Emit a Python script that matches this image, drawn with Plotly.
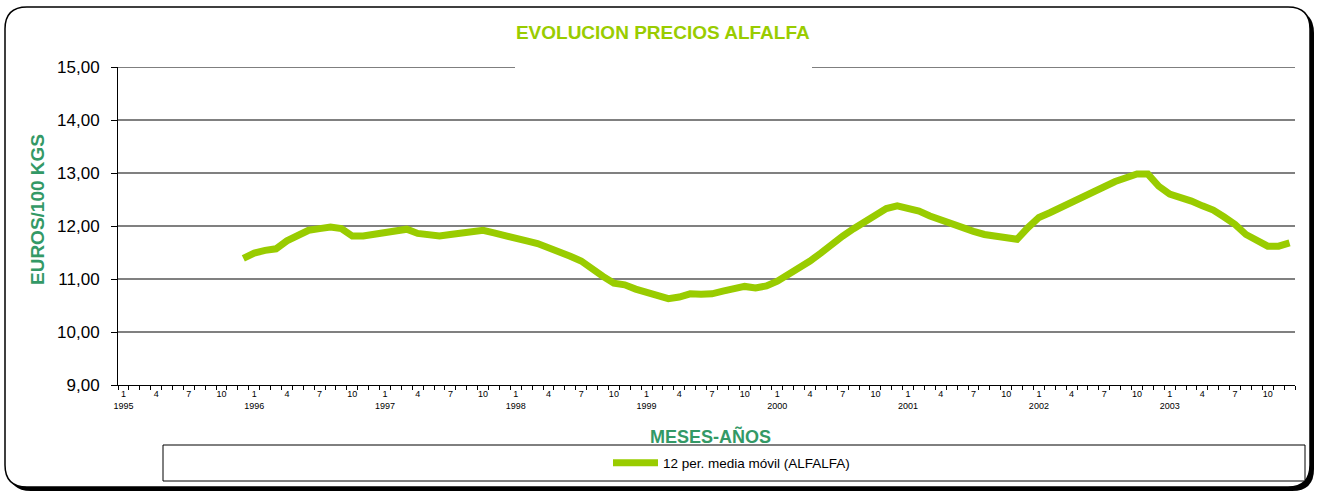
import plotly.graph_objects as go

# months 1995-01 .. 2003-12 on the axis
years = list(range(1995, 2004))
month_nums = list(range(1, 13))

# 12 per. moving average, from 1995-12 to 2003-12
start_index = 11
alfalfa = [
    11.39,
    11.49, 11.54, 11.57, 11.72, 11.82, 11.92, 11.95, 11.98, 11.95, 11.81, 11.81, 11.85,
    11.89, 11.90, 11.94, 11.86, 11.82, 11.81, 11.84, 11.87, 11.90, 11.92, 11.87, 11.81,
    11.76, 11.72, 11.67, 11.60, 11.53, 11.43, 11.34, 11.18, 11.05, 10.92, 10.89, 10.81,
    10.75, 10.68, 10.63, 10.66, 10.72, 10.71, 10.72, 10.77, 10.82, 10.86, 10.83, 10.87,
    10.96, 11.08, 11.22, 11.34, 11.49, 11.67, 11.81, 11.95, 12.08, 12.23, 12.33, 12.38,
    12.34, 12.28, 12.19, 12.11, 12.03, 11.95, 11.90, 11.84, 11.80, 11.77, 11.75, 11.97,
    12.16, 12.25, 12.35, 12.46, 12.57, 12.66, 12.74, 12.84, 12.91, 12.98, 12.98, 12.75,
    12.60, 12.55, 12.47, 12.38, 12.30, 12.17, 12.03, 11.84, 11.72, 11.62, 11.62, 11.68,
]
y_ticks = [9, 10, 11, 12, 13, 14, 15]

n_months = len(years) * 12
x_vals = list(range(start_index, start_index + len(alfalfa)))

tick_pos = []
tick_txt = []
for yi, yr in enumerate(years):
    for m in month_nums:
        if m in (1, 4, 7, 10):
            tick_pos.append(yi * 12 + m - 1)
            tick_txt.append(f"{m}<br>{yr}" if m == 1 else f"{m}<br> ")

W, H = 1323, 492
L, R, T, B = 118, 28, 67, 107
pw, ph = W - L - R, H - T - B


def px(x):
    return (x - L) / pw


def py(y):
    return (H - B - y) / ph


def rounded_path(x0, y0, x1, y1, r):
    pts = [
        ("M", x0 + r, y0), ("L", x1 - r, y0), ("Q", x1, y0, x1, y0 + r),
        ("L", x1, y1 - r), ("Q", x1, y1, x1 - r, y1), ("L", x0 + r, y1),
        ("Q", x0, y1, x0, y1 - r), ("L", x0, y0 + r), ("Q", x0, y0, x0 + r, y0),
    ]
    out = []
    for p in pts:
        if p[0] == "Q":
            out.append(f"Q{px(p[1])},{py(p[2])} {px(p[3])},{py(p[4])}")
        else:
            out.append(f"{p[0]}{px(p[1])},{py(p[2])}")
    return " ".join(out) + " Z"


fig = go.Figure()
fig.add_trace(go.Scatter(
    x=x_vals, y=alfalfa, mode="lines",
    name="12 per. media móvil (ALFALFA)",
    line=dict(color="#99cc00", width=7),
))

shapes = [
    # frame shadow + frame
    dict(type="path", xref="paper", yref="paper", layer="below",
         path=rounded_path(9, 11, 1314, 491, 22), fillcolor="black", line=dict(width=0)),
    dict(type="path", xref="paper", yref="paper", layer="below",
         path=rounded_path(5, 7, 1310, 487, 22), fillcolor="white",
         line=dict(color="black", width=1.5)),
    # top gridline (15,00)
    dict(type="line", xref="paper", yref="y", x0=0, x1=1, y0=max(y_ticks), y1=max(y_ticks),
         line=dict(color="black", width=1)),
    # gap in top line behind title box
    dict(type="rect", xref="paper", yref="paper", layer="above",
         x0=px(515), x1=px(812), y0=py(62), y1=py(72), fillcolor="white", line=dict(width=0)),
    # legend box
    dict(type="rect", xref="paper", yref="paper", layer="below",
         x0=px(163), x1=px(1305), y0=py(445), y1=py(481), fillcolor="white",
         line=dict(color="black", width=1)),
]

fig.update_layout(
    width=W, height=H,
    margin=dict(l=L, r=R, t=T, b=B),
    paper_bgcolor="white", plot_bgcolor="rgba(0,0,0,0)",
    separators=",.",
    font=dict(family="Liberation Sans, Arial", color="black"),
    title=dict(text="<b>EVOLUCION PRECIOS ALFALFA</b>", x=0.501, xanchor="center",
               y=1 - 32 / H, yanchor="middle",
               font=dict(size=19, color="#99cc00")),
    shapes=shapes,
    showlegend=True,
    legend=dict(orientation="h", x=px(608), xanchor="left", y=py(463), yanchor="middle",
                bgcolor="rgba(0,0,0,0)", font=dict(size=13.5, color="black"),
                itemwidth=45),
    annotations=[
        dict(text="<b>EUROS/100 KGS</b>", textangle=-90, xref="paper", yref="paper",
             x=px(37), y=py(210), xanchor="center", yanchor="middle", showarrow=False,
             font=dict(size=19, color="#339966")),
        dict(text="<b>MESES-AÑOS</b>", xref="paper", yref="paper",
             x=px(710), y=py(436), xanchor="center", yanchor="middle", showarrow=False,
             font=dict(size=18, color="#339966")),
    ],
)

fig.update_xaxes(
    range=[-0.5, n_months - 0.5],
    tickmode="array", tickvals=tick_pos, ticktext=tick_txt,
    ticks="", tickfont=dict(size=9, color="black"),
    showgrid=False, zeroline=False,
    showline=True, linecolor="black", linewidth=1,
    minor=dict(tickmode="linear", tick0=-0.5, dtick=1, ticks="outside",
               ticklen=4, tickcolor="black", showgrid=False),
)
fig.update_yaxes(
    range=[min(y_ticks), max(y_ticks)], tickvals=y_ticks, tickformat=".2f",
    ticks="outside", ticklen=6, tickcolor="black", ticklabelstandoff=8,
    tickfont=dict(size=17, color="black"),
    showgrid=True, gridcolor="#808080", gridwidth=1.5,
    zeroline=False, showline=True, linecolor="black", linewidth=1,
)

fig.write_html("out.html", config={"displayModeBar": False},
               post_script="document.body.style.margin='0';")
